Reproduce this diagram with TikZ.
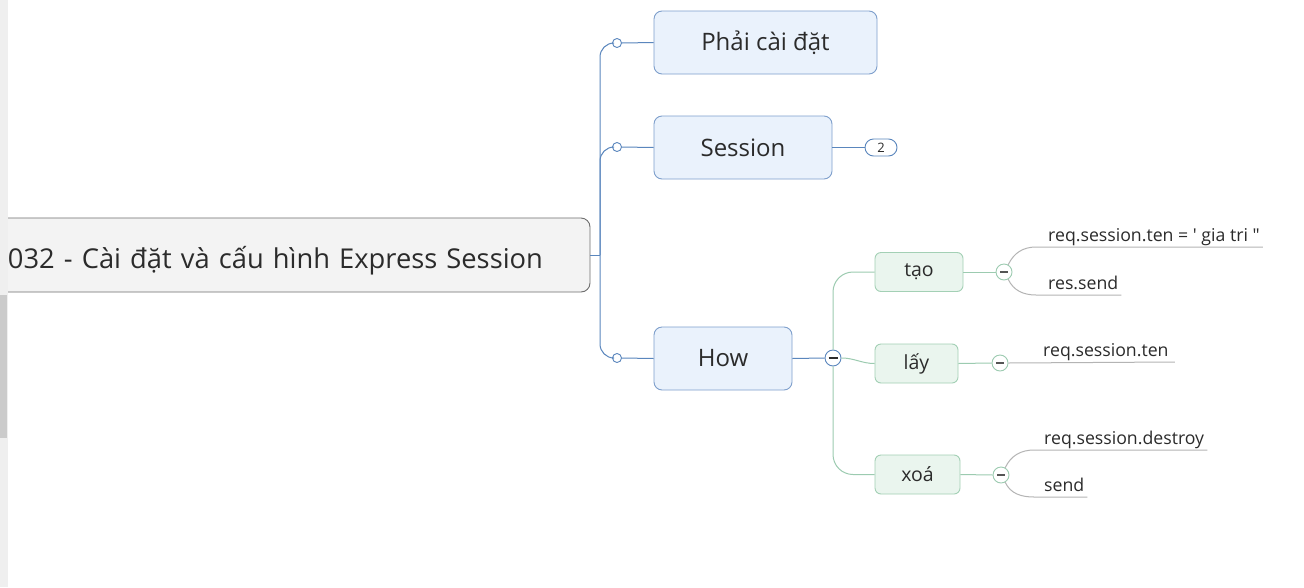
\documentclass[tikz,border=0pt]{standalone}
\usepackage{fontspec}
\setmainfont{Open Sans}
\newfontfamily\nq{Open Sans}
\definecolor{txt}{HTML}{2B2B2B}
\definecolor{rootfill}{HTML}{F3F3F3}
\definecolor{rootdraw}{HTML}{6E6E6E}
\definecolor{bluefill}{HTML}{EAF2FC}
\definecolor{bluedraw}{HTML}{7E9FCC}
\definecolor{blueline}{HTML}{5A86BD}
\definecolor{greenfill}{HTML}{EAF5EE}
\definecolor{greendraw}{HTML}{A3D0B5}
\definecolor{greenline}{HTML}{9CCBB0}
\definecolor{leafline}{HTML}{B4B4B4}
\definecolor{strip}{HTML}{EFEFEF}
\definecolor{stripdark}{HTML}{CBCBCB}
\tikzset{
  rootbox/.style={draw=rootdraw, fill=rootfill, line width=0.9pt, rounded corners=9pt,
    minimum width=600pt, minimum height=74pt, text width=564pt, align=left,
    text height=30pt, text depth=4pt,
    inner xsep=18pt, font=\fontsize{27.3}{32}\selectfont, text=txt},
  mainbox/.style={draw=bluedraw, fill=bluefill, line width=0.9pt, rounded corners=8pt,
    minimum height=63pt, font=\fontsize{24}{28}\selectfont, text=txt},
  subbox/.style={draw=greendraw, fill=greenfill, line width=0.9pt, rounded corners=6pt,
    minimum height=39pt, font=\fontsize{19.5}{24}\selectfont, text=txt},
  dot/.style={circle, draw=blueline, fill=white, line width=0.9pt, minimum size=9pt, inner sep=0pt},
  bminus/.style={circle, draw=blueline, fill=white, line width=0.9pt, minimum size=16pt, inner sep=0pt},
  gminus/.style={circle, draw=greenline, fill=white, line width=0.9pt, minimum size=16pt, inner sep=0pt},
  badge/.style={draw=blueline, fill=white, line width=0.9pt, rounded corners=8.5pt,
    minimum width=32pt, minimum height=17pt, inner sep=0pt, font=\fontsize{13}{15}\selectfont, text=txt},
  leaf/.style={inner xsep=0pt, inner ysep=1.5pt, text depth=4.2pt, anchor=south west,
    font=\fontsize{17.7}{21}\selectfont, text=txt},
  bl/.style={draw=blueline, line width=1pt},
  gl/.style={draw=greenline, line width=1pt},
  ll/.style={draw=leafline, line width=1pt},
  minusbar/.style={line width=1.1pt, draw=txt}
}
\begin{document}
\begin{tikzpicture}[x=1pt,y=-1pt]
\useasboundingbox (0,0) rectangle (1304,587);
\fill[white] (0,0) rectangle (1304,587);
% root
\node[rootbox] (root) at (290,255) {032 - Cài đặt và cấu hình Express Session};
% left strip
\fill[strip] (0,0) rectangle (8,587);
\fill[stripdark] (0,295) rectangle (7,438);
% main branches
\node[mainbox, minimum width=223pt] (p) at (765.5,42.5) {Phải cài đặt};
\node[mainbox, minimum width=178pt] (s) at (743,147.5) {Session};
\node[mainbox, minimum width=138pt] (h) at (723,358.5) {How};
\node[dot] (c1) at (617,43) {};
\node[dot] (c2) at (617,147) {};
\node[dot] (c3) at (617,358) {};
\coordinate (tr) at (600,255);
\draw[bl] (root.east) -- (tr);
\draw[bl, rounded corners=14pt] (tr) |- (c1.west);
\draw[bl, rounded corners=14pt] (tr) |- (c2.west);
\draw[bl, rounded corners=14pt] (tr) |- (c3.west);
\draw[bl] (c1.east) -- (p.west);
\draw[bl] (c2.east) -- (s.west);
\draw[bl] (c3.east) -- (h.west);
% badge
\node[badge] (b2) at (881,147.5) {2};
\draw[bl] (s.east) -- (b2.west);
% How children
\node[subbox, minimum width=88pt] (tao) at (919,272) {tạo};
\node[subbox, minimum width=83pt] (lay) at (916.5,363.5) {lấy};
\node[subbox, minimum width=85pt] (xoa) at (917.5,474.5) {xoá};
\node[bminus] (hm) at (833,358) {};
\draw[gl, rounded corners=20pt] (hm.north) |- (tao.west);
\draw[gl, rounded corners=20pt] (hm.south) |- (xoa.west);
\draw[gl] (hm.east) to[out=0,in=180] (lay.west);
\draw[bl] (h.east) -- (hm.west);
\draw[minusbar] ([xshift=-4.5pt]hm.center) -- ([xshift=4.5pt]hm.center);
% leaf circles
\node[gminus] (tm) at (1004,272) {};
\node[gminus] (lm) at (1000,363) {};
\node[gminus] (xm) at (1001,475) {};
\draw[gl] (tao.east) -- (tm.west);
\draw[gl] (lay.east) -- (lm.west);
\draw[gl] (xoa.east) -- (xm.west);
\foreach \m in {tm,lm,xm}{
  \draw[line width=1.1pt, draw=txt!80] ([xshift=-4pt]\m.center) -- ([xshift=4pt]\m.center);
}
% leaves
\node[leaf] (l1) at (1048,247) {req.session.ten = {\nq'} gia tri {\nq"}};
\node[leaf] (l2) at (1048,295) {res.send};
\node[leaf] (l3) at (1043,362) {req.session.ten};
\node[leaf] (l4) at (1044,450) {req.session.destroy};
\node[leaf] (l5) at (1044,497) {send};
\draw[ll] (tm.60) to[out=65,in=180] ([xshift=-12pt]l1.south west) -- ([xshift=3pt]l1.south east);
\draw[ll] (tm.-60) to[out=-65,in=180] ([xshift=-12pt]l2.south west) -- ([xshift=3pt]l2.south east);
\draw[ll] (lm.east) -- ([xshift=6pt]l3.south east);
\draw[ll] (xm.60) to[out=65,in=180] ([xshift=-10pt]l4.south west) -- ([xshift=3pt]l4.south east);
\draw[ll] (xm.-60) to[out=-65,in=180] ([xshift=-10pt]l5.south west) -- ([xshift=3pt]l5.south east);
\end{tikzpicture}
\end{document}
